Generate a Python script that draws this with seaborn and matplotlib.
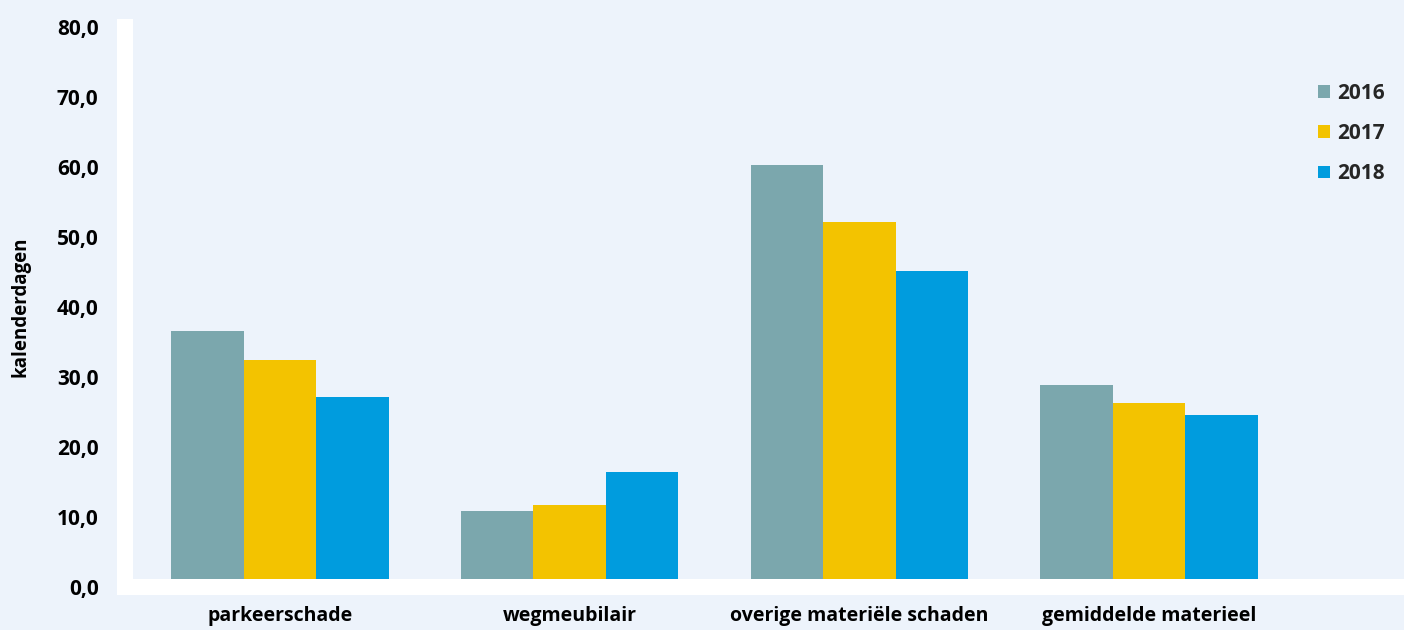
import numpy as np
import pandas as pd
import matplotlib
matplotlib.use("Agg")
import matplotlib.pyplot as plt
from matplotlib.ticker import FuncFormatter, MultipleLocator
import seaborn as sns

categories = ["parkeerschade", "wegmeubilair", "overige materiële schaden", "gemiddelde materieel"]
years = ["2016", "2017", "2018"]
values_2016 = [36.6, 10.9, 60.3, 28.8]
values_2017 = [32.4, 11.7, 52.2, 26.3]
values_2018 = [27.1, 16.4, 45.2, 24.6]
colors = ["#7BA7AD", "#F3C300", "#009CDE"]
ylabel = "kalenderdagen"

rows = []
for yr, vals in zip(years, [values_2016, values_2017, values_2018]):
    for c, v in zip(categories, vals):
        rows.append({"categorie": c, "jaar": yr, "waarde": v})
df = pd.DataFrame(rows)

sns.set_theme(style="white")
plt.rcParams["font.family"] = ["Open Sans", "DejaVu Sans"]
plt.rcParams["font.weight"] = "bold"

bg = "#EDF3FB"
W, H = 1404, 630
fig = plt.figure(figsize=(W / 100, H / 100), dpi=100, facecolor=bg)
ax = fig.add_axes([125 / W, (H - 587) / H, (W - 125) / W, (587 - 27) / H])
ax.set_facecolor(bg)

sns.barplot(data=df, x="categorie", y="waarde", hue="jaar", order=categories,
            hue_order=years, palette=colors, width=0.75, saturation=1,
            errorbar=None, ax=ax, linewidth=0)

ax.set_ylim(0, 80)
ax.set_xlim(-0.535, 3.88)
ax.yaxis.set_major_locator(MultipleLocator(10))
ax.yaxis.set_major_formatter(FuncFormatter(lambda v, p: f"{v:.1f}".replace(".", ",")))

for s in ["top", "right"]:
    ax.spines[s].set_visible(False)
for s in ["left", "bottom"]:
    ax.spines[s].set_visible(True)
    ax.spines[s].set_color("white")
    ax.spines[s].set_zorder(5)
ax.spines["left"].set_linewidth(16 * 0.72)
ax.spines["bottom"].set_linewidth(16 * 0.72)
ax.spines["left"].set_capstyle("projecting")
ax.spines["bottom"].set_capstyle("projecting")

ax.tick_params(axis="y", length=0, pad=19, labelsize=15, labelcolor="black")
ax.tick_params(axis="x", length=0, pad=14, labelsize=14, labelcolor="black")
for t in ax.get_xticklabels() + ax.get_yticklabels():
    t.set_fontweight("bold")

ax.set_xlabel("")
ax.set_ylabel(ylabel, fontsize=13.5, fontweight="bold", color="black")
ax.yaxis.set_label_coords((30 - 125) / (W - 125), 0.5)
ax.grid(False)

handles, labels = ax.get_legend_handles_labels()
ax.legend(handles, labels, loc="upper left", bbox_to_anchor=(1318 / W, 1 - 83 / H),
          bbox_transform=fig.transFigure, frameon=False, borderpad=0, borderaxespad=0,
          handlelength=0.58, handleheight=0.58, handletextpad=0.35, labelspacing=0.92,
          prop={"size": 15, "weight": "bold"})

fig.savefig("out.png", dpi=100, facecolor=bg)
